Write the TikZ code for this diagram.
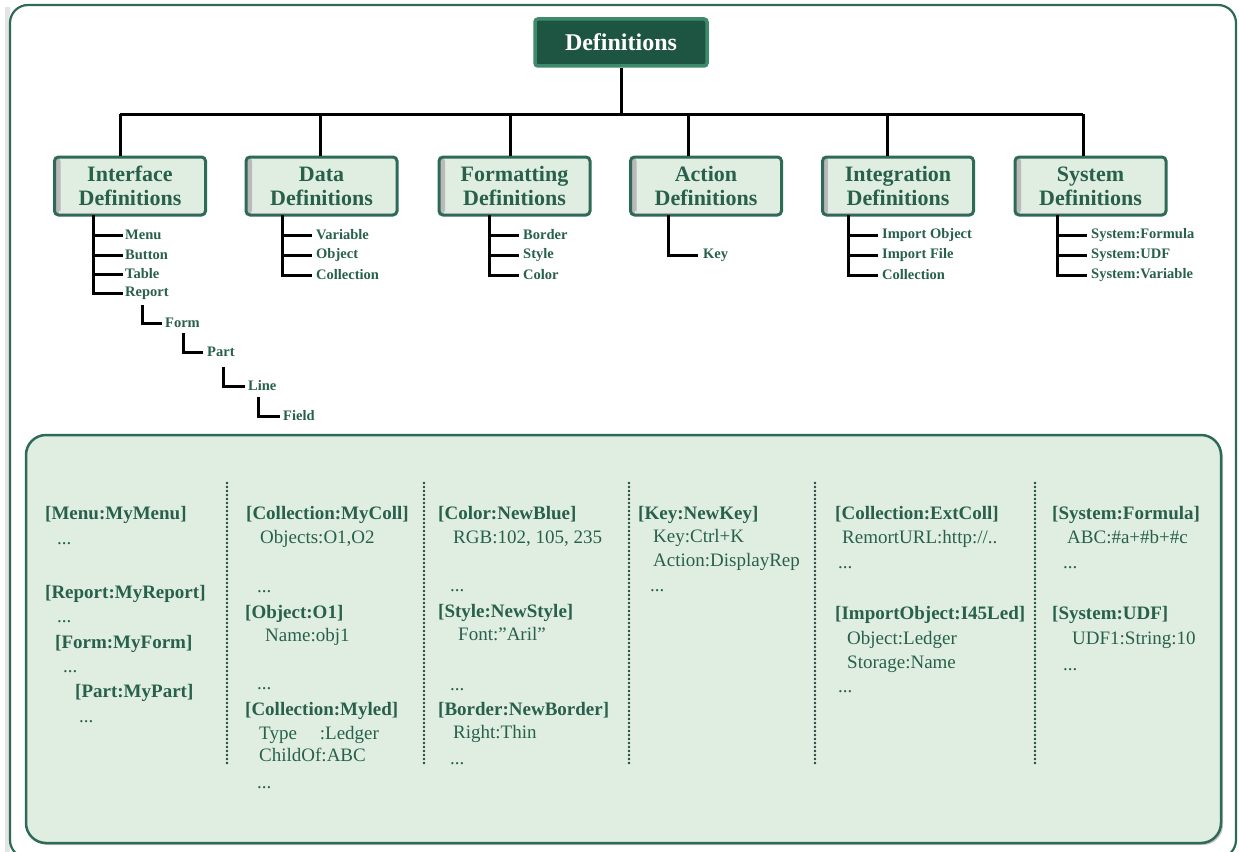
\documentclass[tikz,border=0pt]{standalone}
\usepackage{fontspec}
\setmainfont{Liberation Serif}
\usetikzlibrary{shadows,calc}
\definecolor{tg}{RGB}{40,96,76}
\definecolor{bd}{RGB}{46,107,87}
\definecolor{lg}{RGB}{224,238,226}
\definecolor{dk}{RGB}{30,84,66}
\definecolor{dkbd}{RGB}{62,138,108}
\definecolor{dotc}{RGB}{30,72,58}
\begin{document}
\begin{tikzpicture}[x=1pt,y=-1pt,
  conn/.style={black, line width=3pt},
  topbox/.style={fill=dk, draw=dkbd, line width=3.5pt, rounded corners=3pt,
    minimum width=172pt, minimum height=47pt, inner sep=0pt,
    text=white, font=\fontsize{24}{26}\selectfont\bfseries},
  catbox/.style={fill=lg, draw=bd, line width=3pt, rounded corners=4pt,
    minimum width=151pt, minimum height=58pt, inner sep=0pt, align=center,
    text=tg, font=\fontsize{22}{24}\selectfont\bfseries,
    path picture={
      \shade[left color=black!28, right color=lg, middle color=black!10]
        (path picture bounding box.south west) rectangle ([xshift=6pt]path picture bounding box.north west);
      \shade[top color=lg, bottom color=black!28, middle color=black!10]
        ([xshift=5pt]path picture bounding box.south west) rectangle ([yshift=5pt]path picture bounding box.south east);
    }},
  child/.style={anchor=west, inner sep=0pt, text=tg, font=\fontsize{14.5}{16}\selectfont\bfseries},
  pb/.style={anchor=base west, inner sep=0pt, text=tg, font=\fontsize{19}{22}\selectfont\bfseries},
  pv/.style={anchor=base west, inner sep=0pt, text=tg, font=\fontsize{19}{22}\selectfont},
  sepdot/.style={fill=dotc}
]
\useasboundingbox (0,0) rectangle (1239,851);

% outer frame
\draw[black!10, line width=5pt, rounded corners=18pt] (7,7) -- (7,860);
\draw[bd, line width=2.2pt, rounded corners=18pt, fill=white] (10,5) rectangle (1236,858);

% root
\node[topbox] (root) at (621,42.5) {Definitions};

% categories
\node[catbox] (iface) at (130,186) {Interface\\Definitions};
\node[catbox] (data)  at (321.5,186) {Data\\Definitions};
\node[catbox] (fmt)   at (514.5,186) {Formatting\\Definitions};
\node[catbox] (act)   at (706,186) {Action\\Definitions};
\node[catbox] (integ) at (898,186) {Integration\\Definitions};
\node[catbox] (sys)   at (1090.5,186) {System\\Definitions};

% tree connectors
\coordinate (bar) at (621,114);
\coordinate (d1) at (120,114);
\coordinate (d2) at (320,114);
\coordinate (d3) at (510,114);
\coordinate (d4) at (688,114);
\coordinate (d5) at (887,114);
\coordinate (d6) at (1083,114);
\draw[conn] (root.south) -- (bar);
\draw[conn] (d1) -- (d6);
\draw[conn] (d1) -- (d1 |- iface.north);
\draw[conn] (d2) -- (d2 |- data.north);
\draw[conn] (d3) -- (d3 |- fmt.north);
\draw[conn] (d4) -- (d4 |- act.north);
\draw[conn] (d5) -- (d5 |- integ.north);
\draw[conn] (d6) -- (d6 |- sys.north);

% interface children
\node[child] (menu)   at (125,235) {Menu};
\node[child] (button) at (125,255) {Button};
\node[child] (table)  at (125,274) {Table};
\node[child] (report) at (125,293) {Report};
\node[child] (form)   at (165,323) {Form};
\node[child] (part)   at (207,352) {Part};
\node[child] (line)   at (248,386) {Line};
\node[child] (field)  at (283,416) {Field};
\coordinate (s1) at (93,215);
\draw[conn] (s1) |- ([xshift=-2pt]report.west);
\foreach \c in {menu,button,table}{\draw[conn] (s1 |- \c.west) -- ([xshift=-2pt]\c.west);}
\coordinate (r1) at (142,305);
\coordinate (r2) at (183,333);
\coordinate (r3) at (223,367);
\coordinate (r4) at (258,397);
\draw[conn] (r1) |- ([xshift=-3pt]form.west);
\draw[conn] (r2) |- ([xshift=-4pt]part.west);
\draw[conn] (r3) |- ([xshift=-3pt]line.west);
\draw[conn] (r4) |- ([xshift=-3pt]field.west);

% data children
\node[child] (var)  at (316,235) {Variable};
\node[child] (obj)  at (316,255) {Object};
\node[child] (coll) at (316,275) {Collection};
\coordinate (s2) at (282,215);
\draw[conn] (s2) |- ([xshift=-4pt]coll.west);
\foreach \c in {var,obj}{\draw[conn] (s2 |- \c.west) -- ([xshift=-4pt]\c.west);}

% formatting children
\node[child] (border) at (523,235) {Border};
\node[child] (style)  at (523,255) {Style};
\node[child] (color)  at (523,275) {Color};
\coordinate (s3) at (489,215);
\draw[conn] (s3) |- ([xshift=-4pt]color.west);
\foreach \c in {border,style}{\draw[conn] (s3 |- \c.west) -- ([xshift=-4pt]\c.west);}

% action children
\node[child] (key) at (703,255) {Key};
\coordinate (s4) at (668,215);
\draw[conn] (s4) |- ([xshift=-5pt]key.west);

% integration children
\node[child] (iobj)  at (882,235) {Import Object};
\node[child] (ifile) at (882,255) {Import File};
\node[child] (icoll) at (882,275) {Collection};
\coordinate (s5) at (848,215);
\draw[conn] (s5) |- ([xshift=-4pt]icoll.west);
\foreach \c in {iobj,ifile}{\draw[conn] (s5 |- \c.west) -- ([xshift=-4pt]\c.west);}

% system children
\node[child] (sform) at (1091,235) {System:Formula};
\node[child] (sudf)  at (1091,255) {System:UDF};
\node[child] (svar)  at (1091,275) {System:Variable};
\coordinate (s6) at (1057,215);
\draw[conn] (s6) |- ([xshift=-4pt]svar.west);
\foreach \c in {sform,sudf}{\draw[conn] (s6 |- \c.west) -- ([xshift=-4pt]\c.west);}

% lower panel
\draw[bd, line width=2.5pt, fill=lg, rounded corners=20pt,
  drop shadow={shadow xshift=2pt, shadow yshift=-2pt, opacity=.45}] (26,435) rectangle (1221,843);
\foreach \x in {227,424,629,815,1035}{
  \foreach \y in {483,487,...,763}{\fill[sepdot] (\x,\y) circle (1.3pt);}
}

% column 1
\node[pb] (c1a) at (45,519) {[Menu:MyMenu]};
\node[pv] (c1b) at (57,544) {...};
\node[pb] (c1c) at (45,598) {[Report:MyReport]};
\node[pv] (c1d) at (57,622) {...};
\node[pb] (c1e) at (55,648) {[Form:MyForm]};
\node[pv] (c1f) at (63,672) {...};
\node[pb] (c1g) at (75,697) {[Part:MyPart]};
\node[pv] (c1h) at (79,722) {...};

% column 2
\node[pb] (c2a) at (246,519) {[Collection:MyColl]};
\node[pv] (c2b) at (260,543) {Objects:O1,O2};
\node[pv] (c2c) at (257,592) {...};
\node[pb] (c2d) at (245,618) {[Object:O1]};
\node[pv] (c2e) at (265,641) {Name:obj1};
\node[pv] (c2f) at (257,689) {...};
\node[pb] (c2g) at (245,715) {[Collection:Myled]};
\node[pv] (c2h) at (259,739) {Type\hspace{23pt}:Ledger};
\node[pv] (c2i) at (259,761) {ChildOf:ABC};
\node[pv] (c2j) at (257,788) {...};

% column 3
\node[pb] (c3a) at (438,519) {[Color:NewBlue]};
\node[pv] (c3b) at (453,543) {RGB:102, 105, 235};
\node[pv] (c3c) at (450,591) {...};
\node[pb] (c3d) at (438,617) {[Style:NewStyle]};
\node[pv] (c3e) at (458,640) {Font:”Aril”};
\node[pv] (c3f) at (450,690) {...};
\node[pb] (c3g) at (438,715) {[Border:NewBorder]};
\node[pv] (c3h) at (453,738) {Right:Thin};
\node[pv] (c3i) at (450,764) {...};

% column 4
\node[pb] (c4a) at (638,519) {[Key:NewKey]};
\node[pv] (c4b) at (653,542) {Key:Ctrl+K};
\node[pv] (c4c) at (653,566) {Action:DisplayRep};
\node[pv] (c4d) at (650,591) {...};

% column 5
\node[pb] (c5a) at (835,519) {[Collection:ExtColl]};
\node[pv] (c5b) at (842,543) {RemortURL:http://..};
\node[pv] (c5c) at (838,568) {...};
\node[pb] (c5d) at (835,619) {[ImportObject:I45Led]};
\node[pv] (c5e) at (847,644) {Object:Ledger};
\node[pv] (c5f) at (847,668) {Storage:Name};
\node[pv] (c5g) at (838,692) {...};

% column 6
\node[pb] (c6a) at (1052,519) {[System:Formula]};
\node[pv] (c6b) at (1067,543) {ABC:\#a+\#b+\#c};
\node[pv] (c6c) at (1063,568) {...};
\node[pb] (c6d) at (1052,619) {[System:UDF]};
\node[pv] (c6e) at (1072,644) {UDF1:String:10};
\node[pv] (c6f) at (1063,670) {...};
\end{tikzpicture}
\end{document}
